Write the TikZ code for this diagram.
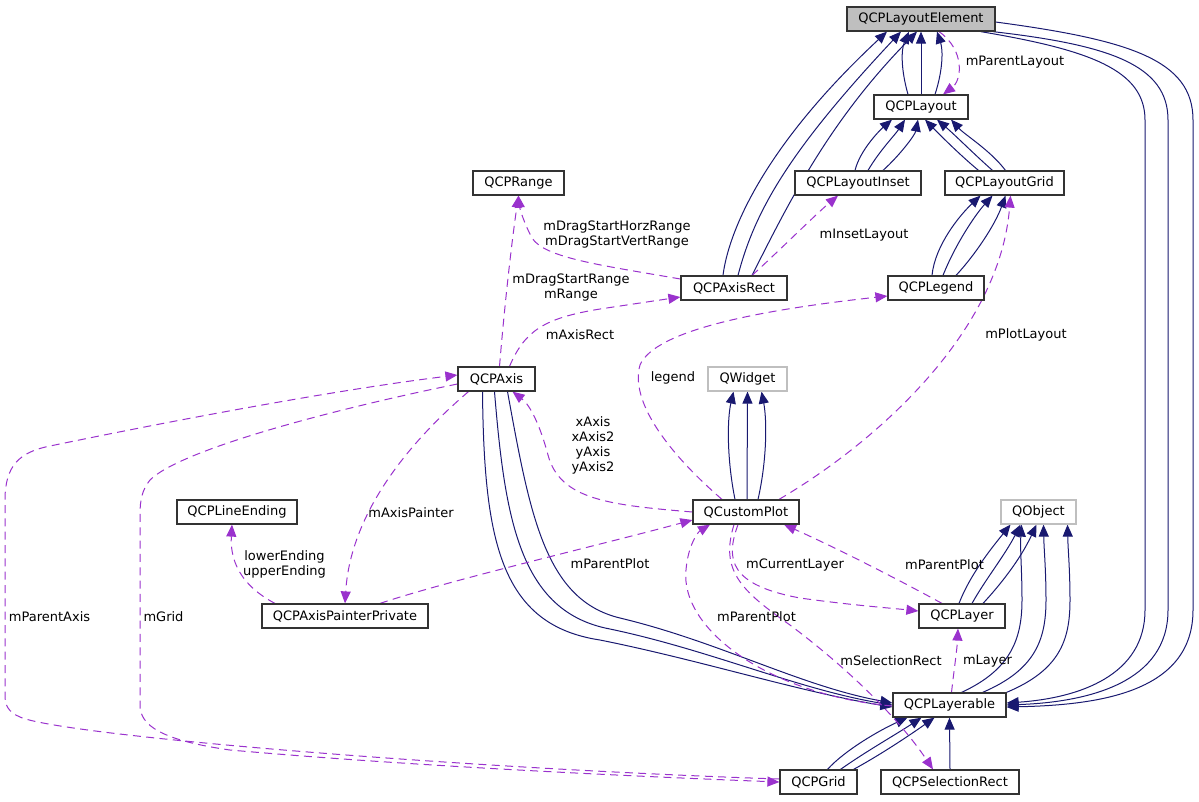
\documentclass[tikz,border=0pt]{standalone}
\usepackage{fontspec}
\setmainfont{DejaVu Sans}
\usetikzlibrary{positioning}
\usetikzlibrary{arrows.meta}
\usetikzlibrary{calc}
\usetikzlibrary{backgrounds}
\definecolor{edgeblue}{HTML}{191970}
\definecolor{usepurple}{HTML}{9A32CD}
\definecolor{extgray}{HTML}{BFBFBF}

\begin{document}
\begin{tikzpicture}[
  x=0.75pt, y=-0.75pt,
  font=\fontsize{9.75pt}{11.25pt}\selectfont,
  cls/.style={draw=black!80, line width=0.9pt, fill=white, minimum height=18pt, inner sep=0pt},
  ext/.style={cls, draw=extgray},
  focus/.style={cls, fill=extgray},
  wd/.style={minimum width=#1*0.75pt},
  inh/.style={draw=edgeblue, line width=0.75pt, -{Triangle[length=9pt,width=7.5pt]}},
  member/.style={draw=usepurple, line width=0.75pt, dash pattern=on 6pt off 4pt, -{Triangle[length=9pt,width=7.5pt]}},
  lbl/.style={align=center, inner sep=0pt}
]
\useasboundingbox (0,0) rectangle (1199,801);

% Classes
\node[focus, wd=148] (elem) at (921,19) {QCPLayoutElement};
\node[cls, wd=94] (layout) at (921,107) {QCPLayout};
\node[cls, wd=126] (inset) at (858,183) {QCPLayoutInset};
\node[cls, wd=119] (grid) at (1004.5,183) {QCPLayoutGrid};
\node[cls, wd=91] (range) at (518.5,183) {QCPRange};
\node[cls, wd=106] (axisrect) at (734,288) {QCPAxisRect};
\node[cls, wd=96] (legend) at (936,288) {QCPLegend};
\node[cls, wd=77] (axis) at (496.5,379) {QCPAxis};
\node[ext, wd=79] (qwidget) at (747.5,379) {QWidget};
\node[cls, wd=106] (plot) at (746,512) {QCustomPlot};
\node[ext, wd=75] (qobject) at (1038.5,512) {QObject};
\node[cls, wd=120] (lineend) at (237,512) {QCPLineEnding};
\node[cls, wd=166] (painter) at (345,616) {QCPAxisPainterPrivate};
\node[cls, wd=86] (layer) at (962,616) {QCPLayer};
\node[cls, wd=113] (layerable) at (949.5,705) {QCPLayerable};
\node[cls, wd=77] (gridln) at (818.5,782) {QCPGrid};
\node[cls, wd=138] (selrect) at (950,782) {QCPSelectionRect};

% Member labels
\node[lbl] (lParentLayout) at (1015,62) {mParentLayout};
\node[lbl] (lDragRect) at (617,235) {mDragStartHorzRange\\mDragStartVertRange};
\node[lbl] (lDragAxis) at (571,288) {mDragStartRange\\mRange};
\node[lbl] (lAxisRect) at (580,335) {mAxisRect};
\node[lbl] (lInset) at (864,235) {mInsetLayout};
\node[lbl] (lLegend) at (673,378) {legend};
\node[lbl] (lPlotLayout) at (1026,335) {mPlotLayout};
\node[lbl] (lAxes) at (593,445) {xAxis\\xAxis2\\yAxis\\yAxis2};
\node[lbl] (lPainter) at (411,513) {mAxisPainter};
\node[lbl] (lEnding) at (284.5,564.5) {lowerEnding\\upperEnding};
\node[lbl] (lPlotA) at (610,564) {mParentPlot};
\node[lbl] (lParentAxis) at (49.5,617) {mParentAxis};
\node[lbl] (lGrid) at (163.5,617) {mGrid};
\node[lbl] (lCurLayer) at (795,565) {mCurrentLayer};
\node[lbl] (lPlotB) at (944.5,565) {mParentPlot};
\node[lbl] (lPlotC) at (756.5,617) {mParentPlot};
\node[lbl] (lSelRect) at (891,661) {mSelectionRect};
\node[lbl] (lLayer) at (987.5,661) {mLayer};

\begin{scope}[on background layer]
% Inheritance
\draw[inh] ($(axisrect.north)+(-11,0)$) .. controls (728,235) and (760,150) .. ($(elem.south)+(-34,0)$);
\draw[inh] ($(axisrect.north)+(4,0)$) .. controls (755,210) and (790,150) .. ($(elem.south)+(-20,0)$);
\draw[inh] ($(axisrect.north)+(18,0)$) .. controls (790,200) and (830,120) .. ($(elem.south)+(-4,0)$);
\draw[inh] ($(layout.north)+(-13,0)$) .. controls (901,70) and (901,50) .. ($(elem.south)+(-12,0)$);
\draw[inh] (layout.north) -- (elem.south);
\draw[inh] ($(layout.north)+(14,0)$) .. controls (943,70) and (943,50) .. ($(elem.south)+(16,0)$);

\draw[inh] ($(inset.north)+(-3,0)$) .. controls (860,150) and (880,130) .. ($(layout.south)+(-29,0)$);
\draw[inh] ($(inset.north)+(10,0)$) .. controls (880,150) and (895,135) .. ($(layout.south)+(-16,0)$);
\draw[inh] ($(inset.north)+(25,0)$) .. controls (900,155) and (915,135) .. ($(layout.south)+(-3,0)$);
\draw[inh] ($(grid.north)+(-26,0)$) .. controls (960,155) and (940,135) .. ($(layout.south)+(4,0)$);
\draw[inh] ($(grid.north)+(-12,0)$) .. controls (975,155) and (955,135) .. ($(layout.south)+(16,0)$);
\draw[inh] ($(grid.north)+(1,0)$) .. controls (990,150) and (965,135) .. ($(layout.south)+(30,0)$);

\draw[inh] ($(legend.north)+(-4,0)$) .. controls (935,245) and (960,215) .. ($(grid.south)+(-24,0)$);
\draw[inh] ($(legend.north)+(7,0)$) .. controls (955,245) and (975,215) .. ($(grid.south)+(-12,0)$);
\draw[inh] ($(legend.north)+(20,0)$) .. controls (975,255) and (995,225) .. ($(grid.south)+(1,0)$);

\draw[inh] ($(elem.south east)+(-15,0)$) .. controls (1090,50) and (1145,70) .. (1145,120) -- (1145,610)
  .. controls (1145,675) and (1080,698) .. ($(layerable.east)+(0,-2)$);
\draw[inh] ($(elem.south east)+(-3,0)$) .. controls (1110,45) and (1168,65) .. (1168,120) -- (1168,610)
  .. controls (1168,682) and (1090,702) .. (layerable.east);
\draw[inh] ($(elem.east)+(0,3)$) .. controls (1130,40) and (1193,60) .. (1193,120) -- (1193,610)
  .. controls (1193,692) and (1100,705) .. ($(layerable.east)+(0,2)$);

\draw[inh] ($(axis.south)+(-14,0)$) .. controls (484,540) and (500,625) .. (600,640)
  .. controls (700,660) and (800,692) .. ($(layerable.west)+(0,2)$);
\draw[inh] ($(axis.south)+(-2,0)$) .. controls (505,520) and (520,612) .. (610,629)
  .. controls (710,650) and (800,690) .. (layerable.west);
\draw[inh] ($(axis.south)+(11,0)$) .. controls (530,515) and (545,600) .. (620,618)
  .. controls (720,642) and (800,686) .. ($(layerable.west)+(0,-2)$);

\draw[inh] ($(gridln.north)+(9,0)$) .. controls (845,750) and (880,730) .. ($(layerable.south)+(-42,0)$);
\draw[inh] ($(gridln.north)+(22,0)$) .. controls (865,752) and (895,735) .. ($(layerable.south)+(-28,0)$);
\draw[inh] ($(gridln.north)+(35,0)$) .. controls (880,755) and (910,735) .. ($(layerable.south)+(-15,0)$);
\draw[inh] (selrect.north) -- (layerable.south);

\draw[inh] ($(layer.north)+(-3,0)$) .. controls (970,575) and (990,550) .. ($(qobject.south)+(-28,0)$);
\draw[inh] ($(layer.north)+(10,0)$) .. controls (985,580) and (1005,555) .. ($(qobject.south)+(-18,0)$);
\draw[inh] ($(layer.north)+(21,0)$) .. controls (1000,585) and (1020,560) .. ($(qobject.south)+(-2,0)$);
\draw[inh] ($(layerable.north)+(12,0)$) .. controls (1010,670) and (1022,640) .. (1022,600)
  .. controls (1022,570) and (1020,550) .. ($(qobject.south)+(-17,0)$);
\draw[inh] ($(layerable.north)+(33,0)$) .. controls (1035,670) and (1046,640) .. (1046,600)
  .. controls (1046,570) and (1044,550) .. ($(qobject.south)+(5,0)$);
\draw[inh] ($(layerable.north)+(57,0)$) .. controls (1060,670) and (1070,640) .. (1070,600)
  .. controls (1070,570) and (1068,550) .. ($(qobject.south)+(29,0)$);

\draw[inh] ($(plot.north)+(-11,0)$) .. controls (727,460) and (727,420) .. ($(qwidget.south)+(-14,0)$);
\draw[inh] ($(plot.north)+(1,0)$) -- (qwidget.south);
\draw[inh] ($(plot.north)+(12,0)$) .. controls (767,460) and (767,420) .. ($(qwidget.south)+(14,0)$);

% Members
\draw[member] ($(elem.south)+(18,0)$) .. controls (965,50) and (962,80) .. ($(layout.north)+(22,0)$);
\draw[member] ($(axisrect.west)+(0,-9)$) .. controls (600,265) and (545,258) .. (532,238)
  .. controls (525,225) and (520,210) .. (range.south);
\draw[member] ($(axis.north)+(3,0)$) .. controls (505,300) and (512,240) .. (range.south);
\draw[member] ($(axis.north)+(13,0)$) .. controls (525,330) and (545,318) .. (600,309)
  .. controls (640,303) and (660,300) .. ($(axisrect.west)+(0,9)$);
\draw[member] ($(axisrect.north)+(18,0)$) .. controls (780,250) and (815,215) .. ($(inset.south)+(-20,0)$);
\draw[member] ($(plot.north)+(-24,0)$) .. controls (665,450) and (630,400) .. (640,365)
  .. controls (655,330) and (760,310) .. ($(legend.west)+(0,8)$);
\draw[member] ($(plot.north)+(33,0)$) .. controls (880,440) and (1000,330) .. ($(grid.south)+(6,0)$);
\draw[member] (plot.west) .. controls (610,505) and (560,500) .. (548,455)
  .. controls (540,425) and (530,405) .. ($(axis.south)+(16,0)$);
\draw[member] ($(axis.south)+(-28,0)$) .. controls (400,450) and (350,520) .. (painter.north);
\draw[member] ($(painter.north)+(-70,0)$) .. controls (240,585) and (230,560) .. ($(lineend.south)+(-5,0)$);
\draw[member] ($(painter.north)+(35,0)$) .. controls (450,580) and (600,545) .. ($(plot.west)+(0,8)$);
\draw[member] ($(gridln.west)+(0,-3)$) .. controls (450,768) and (60,735) .. (20,717)
  .. controls (8,712) and (5,705) .. (5,695) -- (5,500)
  .. controls (5,465) and (20,452) .. (50,446)
  .. controls (200,415) and (350,388) .. ($(axis.west)+(0,-4)$);
\draw[member] ($(axis.west)+(0,5)$) .. controls (330,410) and (180,450) .. (150,480)
  .. controls (142,490) and (140,500) .. (140,515) -- (140,705)
  .. controls (140,725) and (160,740) .. (230,750)
  .. controls (400,765) and (600,775) .. (gridln.west);
\draw[member] ($(layer.north)+(-20,0)$) .. controls (890,575) and (830,545) .. ($(plot.south)+(38,0)$);
\draw[member] ($(plot.south)+(-8,0)$) .. controls (725,560) and (730,585) .. (800,598)
  .. controls (850,605) and (890,608) .. ($(layer.west)+(0,-5)$);
\draw[member] ($(layerable.west)+(0,1)$) .. controls (770,695) and (680,630) .. (686,570)
  .. controls (688,545) and (698,532) .. ($(plot.south)+(-36,0)$);
\draw[member] ($(plot.south)+(-12,0)$) .. controls (720,570) and (740,590) .. (790,625)
  .. controls (850,670) and (900,720) .. ($(selrect.north)+(-17,0)$);
\draw[member] ($(layerable.north)+(2,0)$) .. controls (954,670) and (957,650) .. ($(layer.south)+(-4,0)$);
\end{scope}
\end{tikzpicture}
\end{document}
